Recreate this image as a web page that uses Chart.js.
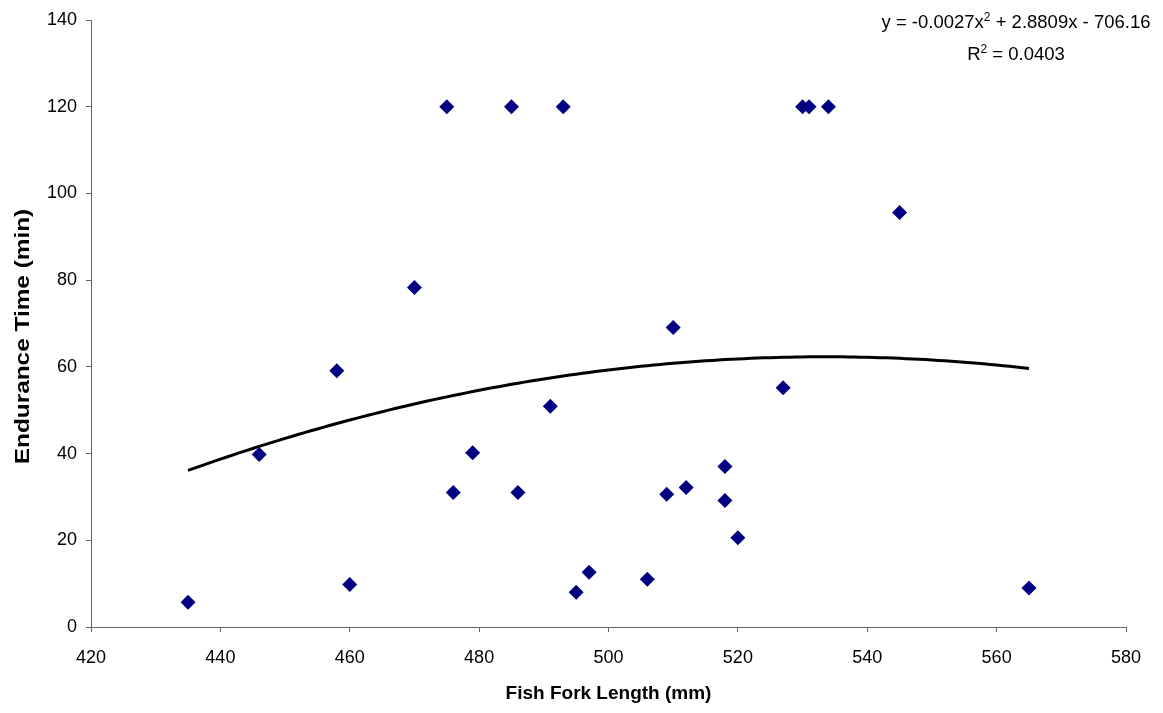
<!DOCTYPE html>
<html>
<head>
<meta charset="utf-8">
<script src="https://cdn.jsdelivr.net/npm/chart.js@4/dist/chart.umd.min.js"></script>
<style>
  html, body { margin: 0; padding: 0; background: #fff; }
  #wrap { width: 1163px; height: 713px; }
</style>
</head>
<body>
<div id="wrap"><canvas id="chart1" width="1163" height="713"></canvas></div>
<script>
// fork length (mm) and endurance time (min) for each fish
var forkLength = [435, 446, 458, 460, 470, 475, 476, 479, 485, 486, 491, 493, 495, 497,
                  506, 509, 510, 512, 518, 518, 520, 527, 530, 531, 534, 545, 565];
var enduranceTime = [5.7, 39.8, 59.1, 9.8, 78.3, 120, 31.0, 40.2, 120, 31.0, 50.9, 120, 8.0, 12.6,
                     11.0, 30.6, 69.1, 32.2, 37.0, 29.2, 20.6, 55.2, 120, 120, 120, 95.6, 9.0];

var xTicks = [420, 440, 460, 480, 500, 520, 540, 560, 580];
var yTicks = [0, 20, 40, 60, 80, 100, 120, 140];

// polynomial trendline, y = a*x^2 + b*x + c
var trendCoef = [-0.0027, 2.8809, -706.16];
var trendLabel = ['y = -0.0027x', '2', ' + 2.8809x - 706.16'];
var r2Label = ['R', '2', ' = 0.0403'];
var yTitle = 'Endurance Time (min)';

var points = forkLength.map(function (x, i) { return { x: x, y: enduranceTime[i] }; });

var trendPoints = [];
var xLo = Math.min.apply(null, forkLength), xHi = Math.max.apply(null, forkLength);
for (var x = xLo; x <= xHi; x++) {
    trendPoints.push({ x: x, y: trendCoef[0] * x * x + trendCoef[1] * x + trendCoef[2] });
}

var FONT = '"Liberation Sans", Arial, sans-serif';

// text with a superscript middle part, centred on cx
function drawSuperLine(ctx, parts, cx, y) {
    var base = '18.5px ' + FONT, sup = '12px ' + FONT;
    var total = 0;
    parts.forEach(function (p, i) {
        ctx.font = (i === 1) ? sup : base;
        total += ctx.measureText(p).width;
    });
    var px = cx - total / 2;
    parts.forEach(function (p, i) {
        ctx.font = (i === 1) ? sup : base;
        ctx.fillText(p, px, (i === 1) ? y - 7 : y);
        px += ctx.measureText(p).width;
    });
}

var labels = {
    id: 'labels',
    afterDraw: function (chart) {
        var ctx = chart.ctx;
        ctx.save();
        ctx.fillStyle = '#000';
        ctx.textAlign = 'left';
        ctx.textBaseline = 'alphabetic';
        drawSuperLine(ctx, trendLabel, 1016, 28);
        drawSuperLine(ctx, r2Label, 1016, 60);

        // y axis title, a bit stretched along its length
        var mid = (chart.chartArea.top + chart.chartArea.bottom) / 2 + 13;
        ctx.translate(23, mid);
        ctx.rotate(-Math.PI / 2);
        ctx.scale(1.16, 1);
        ctx.font = 'bold 21px ' + FONT;
        ctx.textAlign = 'center';
        ctx.textBaseline = 'middle';
        ctx.fillText(yTitle, 0, 0);
        ctx.restore();
    }
};

var ctx1 = document.getElementById('chart1').getContext('2d');

var myScatter = new Chart(ctx1, {
    type: 'scatter',
    data: {
        datasets: [{
            label: 'Endurance Time',
            data: points,
            pointStyle: 'rectRot',
            pointRadius: 7.5,
            backgroundColor: '#000080',
            borderColor: '#000080',
            borderWidth: 0,
            order: 1
        }, {
            type: 'line',
            label: 'Poly. trend',
            data: trendPoints,
            borderColor: '#000',
            borderWidth: 3,
            pointRadius: 0,
            fill: false,
            tension: 0,
            order: 2
        }]
    },
    options: {
        responsive: false,
        animation: false,
        layout: { padding: { left: 0, right: 37, top: 20, bottom: 0 } },
        plugins: {
            legend: { display: false },
            tooltip: { enabled: false }
        },
        scales: {
            x: {
                type: 'linear',
                min: xTicks[0],
                max: xTicks[xTicks.length - 1],
                ticks: { stepSize: xTicks[1] - xTicks[0], padding: 15, color: '#000', font: { family: FONT, size: 18 } },
                grid: { drawOnChartArea: false, tickLength: 5, color: '#666' },
                border: { color: '#666' },
                title: {
                    display: true,
                    text: 'Fish Fork Length (mm)',
                    color: '#000',
                    font: { family: FONT, size: 19, weight: 'bold' },
                    padding: { top: 0, bottom: 8 }
                },
                afterFit: function (scale) { scale.height = 86; }
            },
            y: {
                min: yTicks[0],
                max: yTicks[yTicks.length - 1],
                ticks: { stepSize: yTicks[1] - yTicks[0], padding: 9, color: '#000', font: { family: FONT, size: 18 } },
                grid: { drawOnChartArea: false, tickLength: 5, color: '#666' },
                border: { color: '#666' },
                afterFit: function (scale) { scale.width = 91; }
            }
        }
    },
    plugins: [labels]
});
</script>
</body>
</html>
